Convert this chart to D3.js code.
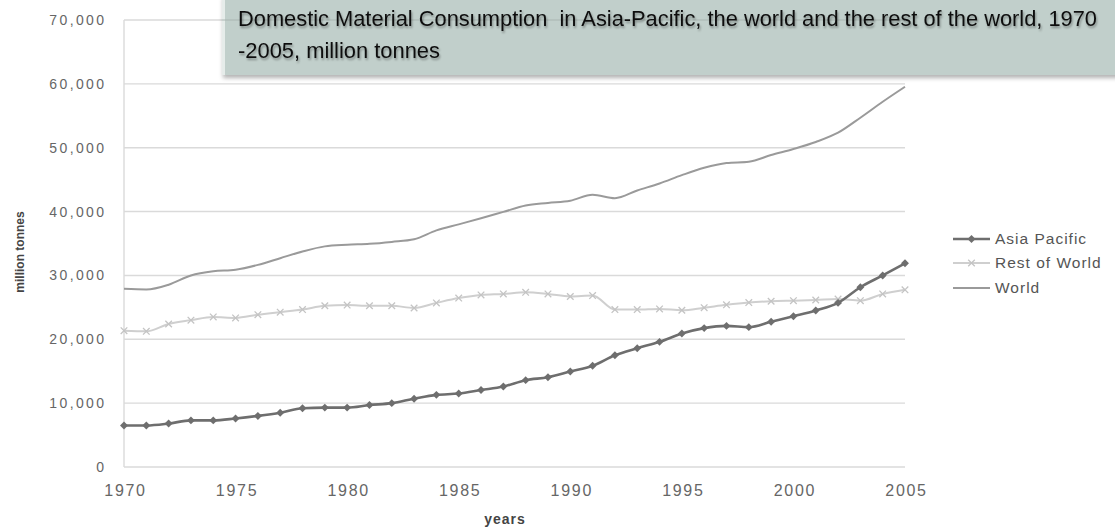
<!DOCTYPE html>
<html>
<head>
<meta charset="utf-8">
<script src="https://cdn.jsdelivr.net/npm/d3@7"></script>
<style>
  body { margin: 0; background: #fff; }
  svg text { font-family: "Liberation Sans", Arial, sans-serif; }
</style>
</head>
<body>
<svg id="chart" width="1115" height="527"></svg>
<script>
// =====================
// Data, million tonnes
// =====================
const years = d3.range(1970, 2006);
const asiaPacific = [6500, 6500, 6800, 7300, 7300, 7600, 8000, 8500, 9200, 9300,
  9300, 9700, 10000, 10700, 11300, 11500, 12050, 12600, 13600, 14050,
  14950, 15850, 17500, 18600, 19600, 20900, 21750, 22100, 21900, 22750,
  23600, 24500, 25700, 28150, 30000, 31900];
const restOfWorld = [21350, 21250, 22400, 23000, 23500, 23350, 23850, 24250, 24650, 25250,
  25350, 25250, 25250, 24900, 25700, 26450, 26950, 27100, 27350, 27100,
  26700, 26850, 24650, 24650, 24750, 24550, 24950, 25400, 25750, 25950,
  26050, 26150, 26300, 26050, 27100, 27750];
const world = [27900, 27800, 28550, 30000, 30650, 30900, 31650, 32700, 33750, 34550,
  34800, 34950, 35250, 35650, 37050, 38000, 38950, 39950, 40950, 41350,
  41700, 42650, 42100, 43300, 44400, 45700, 46850, 47600, 47800, 48850,
  49800, 50900, 52350, 54700, 57200, 59550];
const seriesNames = ['Asia Pacific', 'Rest of World', 'World'];
const yTicks = d3.range(0, 70001, 10000);
const xTicks = [1970, 1975, 1980, 1985, 1990, 1995, 2000, 2005];
const titleLines = ['Domestic Material Consumption  in Asia-Pacific, the world and the rest of the world, 1970',
  '-2005, million tonnes'];

// =====================
// Layout
// =====================
const plotLeft = 124, plotRight = 905, plotTop = 20, plotBottom = 467;
const svg = d3.select('#chart');

const x = d3.scaleLinear([1970, 2005], [plotLeft, plotRight]);
const y = d3.scaleLinear([0, 70000], [plotBottom, plotTop]);

// gridlines
svg.append('g')
  .selectAll('line')
  .data(yTicks)
  .join('line')
  .attr('x1', plotLeft).attr('x2', plotRight)
  .attr('y1', d => y(d)).attr('y2', d => y(d))
  .attr('stroke', '#dadada').attr('stroke-width', 1.4);

// left axis line
svg.append('line')
  .attr('x1', plotLeft).attr('x2', plotLeft).attr('y1', plotTop).attr('y2', plotBottom)
  .attr('stroke', '#dadada').attr('stroke-width', 1.4);

// y axis labels
const yAxis = d3.axisLeft(y).tickValues(yTicks).tickSize(0).tickPadding(17.5)
  .tickFormat(d3.format(','));
svg.append('g')
  .attr('transform', 'translate(' + plotLeft + ',0)')
  .call(yAxis)
  .call(g => g.select('.domain').remove())
  .selectAll('text')
  .attr('font-size', 14).attr('fill', '#666')
  .style('letter-spacing', '2.4px')
  .style('font-family', '"Liberation Sans", Arial, sans-serif');

// x axis labels
const xAxis = d3.axisBottom(x).tickValues(xTicks).tickSize(0).tickPadding(18)
  .tickFormat(d3.format('d'));
svg.append('g')
  .attr('transform', 'translate(0,' + plotBottom + ')')
  .call(xAxis)
  .call(g => g.select('.domain').remove())
  .selectAll('text')
  .attr('font-size', 16).attr('fill', '#666')
  .attr('dx', 1)
  .style('letter-spacing', '1.7px')
  .style('font-family', '"Liberation Sans", Arial, sans-serif');

// axis titles
svg.append('text')
  .text('years')
  .attr('x', 505).attr('y', 524)
  .attr('text-anchor', 'middle')
  .style('letter-spacing', '1px')
  .attr('font-size', 14).attr('font-weight', 'bold').attr('fill', '#444');

svg.append('text')
  .text('million tonnes')
  .attr('transform', 'translate(24,252) rotate(-90)')
  .attr('text-anchor', 'middle')
  .attr('font-size', 12).attr('font-weight', 'bold').attr('fill', '#444');

// =====================
// Lines
// =====================
const line = d3.line().x((d, i) => x(years[i])).y(d => y(d)).curve(d3.curveMonotoneX);

svg.append('path').datum(world)
  .attr('d', line).attr('fill', 'none')
  .attr('stroke', '#9a9a9a').attr('stroke-width', 2);

svg.append('path').datum(restOfWorld)
  .attr('d', line).attr('fill', 'none')
  .attr('stroke', '#cfcfcf').attr('stroke-width', 2);

// Rest of World markers: small crosses
const cross = d3.symbol().type(d3.symbolX).size(30);
svg.append('g')
  .selectAll('path')
  .data(restOfWorld)
  .join('path')
  .attr('d', cross)
  .attr('transform', (d, i) => 'translate(' + x(years[i]) + ',' + y(d) + ')')
  .attr('fill', 'none').attr('stroke', '#c4c4c4').attr('stroke-width', 1.3);

svg.append('path').datum(asiaPacific)
  .attr('d', line).attr('fill', 'none')
  .attr('stroke', '#6e6e6e').attr('stroke-width', 2.6);

const diamond = d3.symbol().type(d3.symbolDiamond2).size(40);
svg.append('g')
  .selectAll('path')
  .data(asiaPacific)
  .join('path')
  .attr('d', diamond)
  .attr('transform', (d, i) => 'translate(' + x(years[i]) + ',' + y(d) + ')')
  .attr('fill', '#6e6e6e');

// =====================
// Legend
// =====================
const legendY = [239, 263, 288];
const legend = svg.append('g');
legend.selectAll('line')
  .data(seriesNames)
  .join('line')
  .attr('x1', 953).attr('x2', 990)
  .attr('y1', (d, i) => legendY[i]).attr('y2', (d, i) => legendY[i])
  .attr('stroke', (d, i) => ['#6e6e6e', '#cfcfcf', '#9a9a9a'][i])
  .attr('stroke-width', (d, i) => [2.6, 2, 2][i]);
legend.append('path')
  .attr('d', diamond)
  .attr('transform', 'translate(971.5,' + legendY[0] + ')')
  .attr('fill', '#6e6e6e');
legend.append('path')
  .attr('d', cross)
  .attr('transform', 'translate(971.5,' + legendY[1] + ')')
  .attr('fill', 'none').attr('stroke', '#c4c4c4').attr('stroke-width', 1.3);
legend.selectAll('text')
  .data(seriesNames)
  .join('text')
  .text(d => d)
  .attr('x', 995)
  .attr('y', (d, i) => legendY[i])
  .attr('dy', '0.35em')
  .style('letter-spacing', '1px')
  .attr('font-size', 15.5).attr('fill', '#555');

// =====================
// Title box
// =====================
const defs = svg.append('defs');
const f = defs.append('filter').attr('id', 'shadow')
  .attr('x', '-5%').attr('y', '-20%').attr('width', '115%').attr('height', '150%');
f.append('feDropShadow').attr('dx', 1).attr('dy', 3).attr('stdDeviation', 2)
  .attr('flood-color', '#000').attr('flood-opacity', 0.3);
const tf = defs.append('filter').attr('id', 'tshadow')
  .attr('x', '-5%').attr('y', '-30%').attr('width', '110%').attr('height', '170%');
tf.append('feDropShadow').attr('dx', 1).attr('dy', 2).attr('stdDeviation', 1.3)
  .attr('flood-color', '#000').attr('flood-opacity', 0.35);

svg.append('rect')
  .attr('x', 222).attr('y', -5).attr('width', 900).attr('height', 80)
  .attr('fill', '#c1cfcb')
  .attr('filter', 'url(#shadow)');
svg.append('rect')
  .attr('x', 222).attr('y', 0).attr('width', 3).attr('height', 75)
  .attr('fill', '#e6ecea');
// top gridline shows through the box
svg.append('line')
  .attr('x1', 222).attr('x2', plotRight)
  .attr('y1', y(70000)).attr('y2', y(70000))
  .attr('stroke', '#a9b5b1').attr('stroke-width', 1.2);

svg.selectAll('text.title')
  .data(titleLines)
  .join('text')
  .attr('class', 'title')
  .text(d => d)
  .attr('x', 238)
  .attr('y', (d, i) => 26 + i * 32)
  .attr('textLength', (d, i) => [859, 202][i])
  .attr('lengthAdjust', 'spacingAndGlyphs')
  .style('white-space', 'pre')
  .style('font-family', '"Liberation Sans Narrow", "Liberation Sans", Arial, sans-serif')
  .attr('font-size', 22)
  .attr('fill', '#111')
  .attr('filter', 'url(#tshadow)');
</script>
</body>
</html>
